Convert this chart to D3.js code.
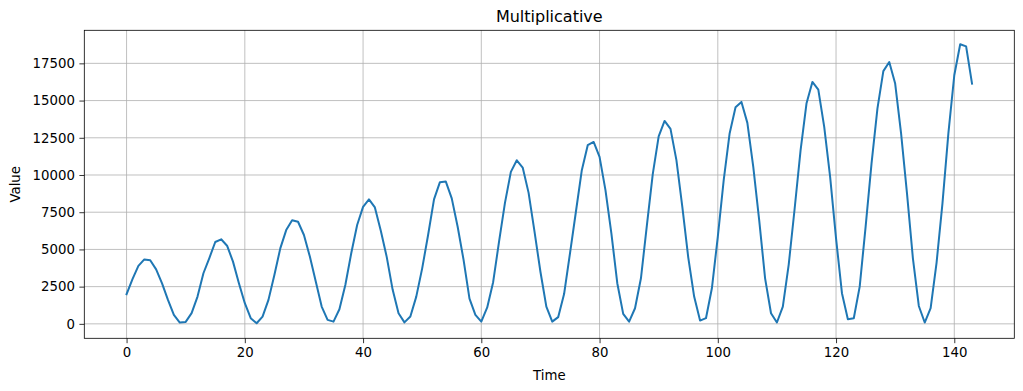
<!DOCTYPE html>
<html>
<head>
<meta charset="utf-8">
<script src="https://cdn.jsdelivr.net/npm/d3@7"></script>
<style>
  body { margin: 0; background: #fff; }
  svg { display: block; font-family: "DejaVu Sans", sans-serif; }
</style>
</head>
<body>
<svg id="chart" width="1023" height="391"></svg>
<script>
const title = "Multiplicative";
const xLabel = "Time";
const yLabel = "Value";
const xTicks = [0, 20, 40, 60, 80, 100, 120, 140];
const yTicks = [0, 2500, 5000, 7500, 10000, 12500, 15000, 17500];
const values = [
  2000, 3000, 3890, 4330, 4270, 3660, 2720, 1610, 600, 90,
  130, 720, 1830, 3400, 4420, 5500, 5680, 5250, 4180, 2730,
  1390, 380, 40, 490, 1610, 3280, 5070, 6300, 6960, 6860,
  5970, 4520, 2840, 1160, 270, 150, 980, 2610, 4740, 6640,
  7860, 8360, 7820, 6250, 4500, 2300, 710, 100, 490, 1830,
  3730, 5970, 8360, 9520, 9560, 8430, 6520, 4300, 1700, 600,
  150, 1100, 2800, 5520, 8130, 10210, 10990, 10500, 8800, 6190,
  3500, 1160, 150, 450, 2000, 4740, 7530, 10320, 12000, 12220,
  11220, 8980, 6080, 2730, 670, 150, 1050, 3060, 6600, 10060,
  12600, 13630, 13100, 11000, 7860, 4470, 1830, 220, 380, 2390,
  5850, 9650, 12790, 14550, 14910, 13500, 10550, 6970, 3060, 710,
  90, 1160, 4000, 7750, 11660, 14800, 16250, 15740, 13230, 9880,
  5740, 2060, 310, 380, 2500, 6520, 10770, 14460, 16980, 17590,
  16140, 12790, 8760, 4400, 1200, 90, 1050, 4100, 8100, 12800,
  16700, 18780, 18640, 16140
];
const times = values.map((v, i) => i);

const svg = d3.select("#chart");
const m = { left: 84.3, right: 1014.3, top: 30.3, bottom: 338.3 };

const xMin = d3.min(times), xMax = d3.max(times);
const xPad = (xMax - xMin) * 0.05;
const x = d3.scaleLinear().domain([xMin - xPad, xMax + xPad]).range([m.left, m.right]);

const yMin = -30, yMax = d3.max(values);
const yPad = (yMax - yMin) * 0.05;
const y = d3.scaleLinear().domain([yMin - yPad, yMax + yPad]).range([m.bottom, m.top]);

const grid = svg.append("g");
grid.selectAll("line.gx").data(xTicks).join("line")
  .attr("x1", d => x(d)).attr("x2", d => x(d))
  .attr("y1", m.top).attr("y2", m.bottom)
  .attr("stroke", "#b0b0b0").attr("stroke-width", 0.8);
grid.selectAll("line.gy").data(yTicks).join("line")
  .attr("y1", d => y(d)).attr("y2", d => y(d))
  .attr("x1", m.left).attr("x2", m.right)
  .attr("stroke", "#b0b0b0").attr("stroke-width", 0.8);

const line = d3.line().x((d, i) => x(times[i])).y(d => y(d));
svg.append("path").datum(values)
  .attr("d", line)
  .attr("fill", "none")
  .attr("stroke", "#1f77b4")
  .attr("stroke-width", 2.0)
  .attr("stroke-linejoin", "round")
  .attr("stroke-linecap", "square");

const xAxis = d3.axisBottom(x).tickValues(xTicks).tickFormat(d3.format("d")).tickSize(4.9).tickPadding(4.5).tickSizeOuter(0);
const yAxis = d3.axisLeft(y).tickValues(yTicks).tickFormat(d3.format("d")).tickSize(4.9).tickPadding(4.5).tickSizeOuter(0);

const gx = svg.append("g").attr("transform", `translate(0,${m.bottom})`).call(xAxis);
const gy = svg.append("g").attr("transform", `translate(${m.left},0)`).call(yAxis);
[gx, gy].forEach(g => {
  g.select(".domain").remove();
  g.selectAll(".tick line").attr("stroke", "#000").attr("stroke-width", 0.8);
  g.selectAll(".tick text").attr("fill", "#000").style("font-size", "13.3px").style("font-family", "DejaVu Sans");
});

svg.append("rect")
  .attr("x", m.left).attr("y", m.top)
  .attr("width", m.right - m.left).attr("height", m.bottom - m.top)
  .attr("fill", "none").attr("stroke", "#000").attr("stroke-width", 0.8);

svg.append("text")
  .attr("x", (m.left + m.right) / 2).attr("y", 22)
  .attr("text-anchor", "middle")
  .style("font-size", "16px")
  .text(title);

svg.append("text")
  .attr("x", (m.left + m.right) / 2).attr("y", 380)
  .attr("text-anchor", "middle")
  .style("font-size", "13.3px")
  .text(xLabel);

svg.append("text")
  .attr("transform", `translate(20,${(m.top + m.bottom) / 2}) rotate(-90)`)
  .attr("text-anchor", "middle")
  .style("font-size", "13.3px")
  .text(yLabel);
</script>
</body>
</html>
